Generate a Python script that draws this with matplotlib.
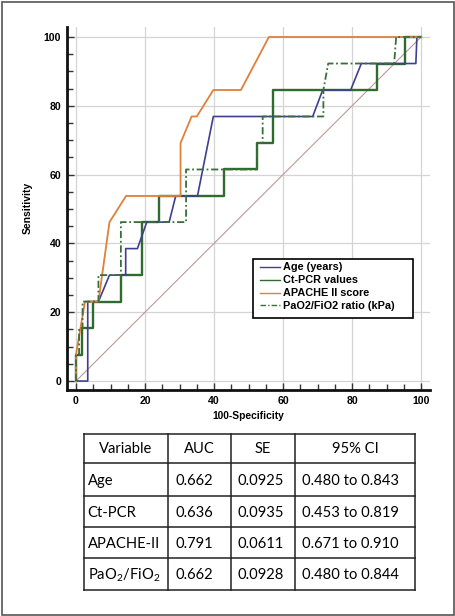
import matplotlib
matplotlib.use("Agg")
import matplotlib.pyplot as plt
from matplotlib.patches import Rectangle

plt.rcParams['font.family'] = ['Liberation Sans', 'DejaVu Sans']
plt.rcParams['mathtext.fontset'] = 'custom'
plt.rcParams['mathtext.rm'] = 'Lato'

# ---- ROC data (100-Specificity, Sensitivity) ----
age_x = [0, 3.4, 3.4, 6.5, 9.7, 14.4, 14.4, 17.8, 20.5, 27.0, 28.9, 35.2, 39.8, 68.6, 71.5, 79.6, 82.7, 98.5, 98.8, 100]
age_y = [0, 0, 23.1, 23.1, 30.8, 30.8, 38.5, 38.5, 46.2, 46.2, 53.8, 53.8, 76.9, 76.9, 84.6, 84.6, 92.3, 92.3, 100, 100]

ct_x = [0, 0, 1.7, 1.7, 5.0, 5.0, 13.0, 13.0, 19.2, 19.2, 24.0, 24.0, 43.0, 43.0, 52.5, 52.5, 57.2, 57.2, 87.3, 87.3, 95.4, 95.4, 100]
ct_y = [0, 7.7, 7.7, 15.4, 15.4, 23.1, 23.1, 30.8, 30.8, 46.2, 46.2, 53.8, 53.8, 61.5, 61.5, 69.2, 69.2, 84.6, 84.6, 92.3, 92.3, 100, 100]

ap_x = [0, 0, 2.6, 6.5, 9.7, 14.5, 30.3, 30.3, 33.5, 35.0, 39.8, 47.8, 55.9, 100]
ap_y = [0, 7.7, 23.1, 23.1, 46.2, 53.8, 53.8, 69.2, 76.9, 76.9, 84.6, 84.6, 100, 100]

pf_x = [0, 0, 0.9, 0.9, 1.9, 1.9, 6.5, 6.5, 13.0, 13.0, 31.9, 31.9, 52.5, 52.5, 54.1, 54.1, 71.7, 71.7, 73.1, 92.2, 92.8, 100]
pf_y = [0, 7.7, 7.7, 15.4, 15.4, 23.1, 23.1, 30.8, 30.8, 46.2, 46.2, 61.5, 61.5, 69.2, 69.2, 76.9, 76.9, 84.6, 92.3, 92.3, 100, 100]

labels = ["Age (years)", "Ct-PCR values", "APACHE II score", "PaO2/FiO2 ratio (kPa)"]
ticks = [0, 20, 40, 60, 80, 100]

# ---- table data ----
tab_header = ["Variable", "AUC", "SE", "95% CI"]
tab_var = ["Age", "Ct-PCR", "APACHE-II", r"PaO$_{\mathrm{2}}$/FiO$_{\mathrm{2}}$"]
tab_auc = ["0.662", "0.636", "0.791", "0.662"]
tab_se = ["0.0925", "0.0935", "0.0611", "0.0928"]
tab_ci = ["0.480 to 0.843", "0.453 to 0.819", "0.671 to 0.910", "0.480 to 0.844"]

W, H = 455, 616
fig = plt.figure(figsize=(W / 100, H / 100), dpi=100)

ax = fig.add_axes([66.7 / W, 1 - 390 / H, 363.3 / W, 363.3 / H])
ax.set_xlim(-2.7, 102.6)
ax.set_ylim(-2.6, 103.0)

ax.plot([0, 100], [0, 100], color='#b89a9e', lw=0.8, zorder=2)
ax.plot(age_x, age_y, color='#3f3f8f', lw=1.2, label=labels[0], zorder=4)
ax.plot(ct_x, ct_y, color='#2f6b2f', lw=1.7, label=labels[1], zorder=3)
ax.plot(ap_x, ap_y, color='#e0803a', lw=1.3, label=labels[2], zorder=5)
ax.plot(pf_x, pf_y, color='#3a6e3a', lw=1.3, ls=(0, (4, 1.5, 1, 1.5)), label=labels[3], zorder=6)

ax.set_xticks(ticks)
ax.set_yticks(ticks)
ax.set_xticks(range(0, 101, 5), minor=True)
ax.set_yticks(range(0, 101, 5), minor=True)
ax.tick_params(which='both', direction='in', width=1, colors='#333333')
ax.tick_params(which='major', length=5, pad=4, labelsize=7.6, labelcolor='black')
ax.tick_params(which='minor', length=4)
for t in ax.get_xticklabels() + ax.get_yticklabels():
    t.set_fontweight('bold')
ax.grid(True, which='major', color='#d4d4d4', lw=0.9)
ax.set_axisbelow(True)
for s in ['top', 'right']:
    ax.spines[s].set_visible(False)
for s in ['left', 'bottom']:
    ax.spines[s].set_linewidth(2)
    ax.spines[s].set_color('#111111')
ax.set_xlabel("100-Specificity", fontsize=7.4, fontweight='bold', labelpad=4)
ax.set_ylabel("Sensitivity", fontsize=7.5, fontweight='bold', labelpad=8)

# legend frame (layout box) and legend entries
def px2ax(px, py):
    return ((px - 66.7) / 363.3, (390 - py) / 363.3)

fx0, fy0 = px2ax(252.7, 318.5)
fx1, fy1 = px2ax(412.7, 259)
ax.add_patch(Rectangle((fx0, fy0), fx1 - fx0, fy1 - fy0, transform=ax.transAxes,
                       facecolor='white', edgecolor='black', lw=1.2, zorder=9))
leg = ax.legend(loc='upper left', bbox_to_anchor=px2ax(260, 262.5),
                borderaxespad=0, frameon=False,
                prop={'weight': 'bold', 'size': 7.8}, handlelength=1.8, handletextpad=0.3,
                labelspacing=0.27, borderpad=0)
leg.set_zorder(10)
for l in leg.get_lines():
    l.set_linewidth(1.0)

# ---- table ----
tax = fig.add_axes([0, 0, 1, 1])
tax.set_xlim(0, W)
tax.set_ylim(H, 0)
tax.axis('off')
cols = [84, 168, 231, 295, 415]
rows = [434, 463.3, 496, 527.3, 558.3, 590]
for c in cols:
    tax.plot([c, c], [rows[0], rows[-1]], color='#222222', lw=1.1)
for r in rows:
    tax.plot([cols[0], cols[-1]], [r, r], color='#222222', lw=1.1)
tf = dict(family=['Lato', 'DejaVu Sans'], fontsize=10.6, color='black', va='center')
for j, h in enumerate(tab_header):
    tax.text((cols[j] + cols[j + 1]) / 2, (rows[0] + rows[1]) / 2, h, ha='center', **tf)
body = [tab_var, tab_auc, tab_se, tab_ci]
pads = [3.5, 7, 7, 7]
for j, colvals in enumerate(body):
    for i, v in enumerate(colvals):
        tax.text(cols[j] + pads[j], (rows[i + 1] + rows[i + 2]) / 2 + 1, v, ha='left', **tf)

# outer frame
fig.patches.append(Rectangle((1.5 / W, 1.5 / H), 1 - 3 / W, 1 - 3 / H, transform=fig.transFigure,
                             fill=False, edgecolor='#555555', lw=1.2))

fig.savefig("out.png", dpi=100)
